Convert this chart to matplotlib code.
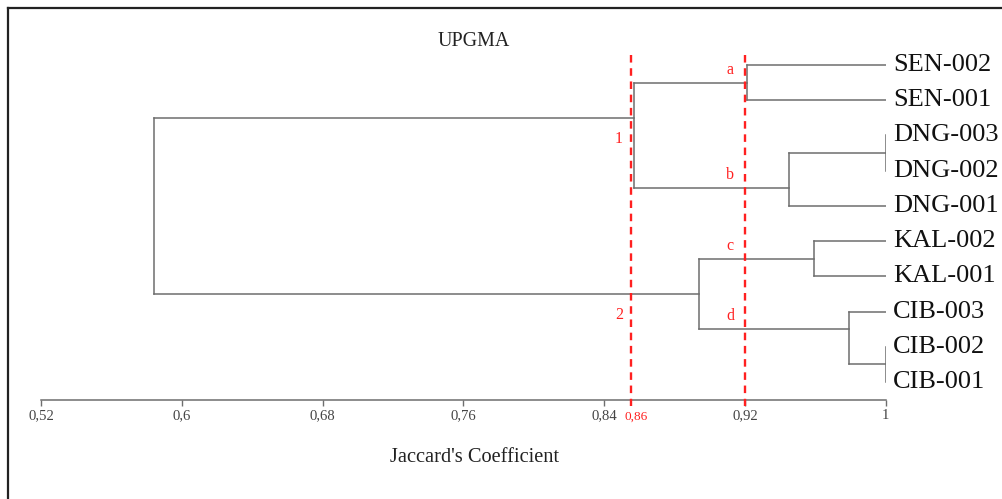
import matplotlib
matplotlib.use('Agg')
import matplotlib.pyplot as plt
from matplotlib.lines import Line2D

plt.rcParams['font.family'] = ['Liberation Serif', 'DejaVu Serif']

# leaves, top to bottom
leaves = ['SEN-002', 'SEN-001', 'DNG-003', 'DNG-002', 'DNG-001',
          'KAL-002', 'KAL-001', 'CIB-003', 'CIB-002', 'CIB-001']

# merges (node ids: leaves 0..9, new nodes 10, 11, ...)
merge_left = [2, 8, 0, 10, 5, 7, 12, 14, 16]
merge_right = [3, 9, 1, 4, 6, 11, 13, 15, 17]
merge_sim = [1.0, 1.0, 0.921, 0.945, 0.959, 0.979, 0.857, 0.894, 0.584]

# group labels on the merges
group_node = {12: 'a', 13: 'b', 14: 'c', 15: 'd', 16: '1', 17: '2'}

cut_low = 0.855   # drawn cut, labelled 0,86
cut_high = 0.92

xticks = [0.52, 0.6, 0.68, 0.76, 0.84, 0.92, 1.0]
xtick_labels = ['0,52', '0,6', '0,68', '0,76', '0,84', '0,92', '1']

fig = plt.figure(figsize=(10.03, 4.99), dpi=100)
ax = fig.add_axes([41.3 / 1003, 99 / 499, 844.4 / 1003, 360 / 499])

tree_col = '#6e6e6e'
n = len(leaves)
node_x = {i: 1.0 for i in range(n)}
node_y = {i: float(i) for i in range(n)}
first = {i: i for i in range(n)}
last = {i: i for i in range(n)}

for k, (l, r, s) in enumerate(zip(merge_left, merge_right, merge_sim)):
    nid = n + k
    # connection sits in the gap between the two child groups
    y = (last[l] + first[r]) / 2
    ax.plot([s, s], [node_y[l], node_y[r]], color=tree_col, lw=1.1)
    for c in (l, r):
        ax.plot([s, node_x[c]], [node_y[c], node_y[c]], color=tree_col, lw=1.1)
    node_x[nid] = s
    node_y[nid] = y
    first[nid] = first[l]
    last[nid] = last[r]

for i, name in enumerate(leaves):
    ax.annotate(name, xy=(1.0, i), xytext=(5.5, 0), textcoords='offset points',
                ha='left', va='center', fontsize=19, color='#111')

# cut lines
for c in (cut_low, cut_high):
    ax.plot([c, c], [-0.284, 9.68], color='#ff2020', lw=1.7,
            ls=(0, (3.2, 2.4)), clip_on=False, zorder=3)

for nid, lab in group_node.items():
    if lab.isdigit():
        off = (-8.3, -15.5)
        cx = cut_low
    else:
        off = (-10.8, 9.4)
        cx = cut_high
    ax.annotate(lab, xy=(cx, node_y[nid]), xytext=off, textcoords='offset points',
                ha='center', va='center', fontsize=11.5, color='#ff2020')

ax.annotate('0,86', xy=(cut_low, 0), xycoords=('data', 'axes fraction'),
            xytext=(3.8, -12.3), textcoords='offset points',
            ha='center', va='center', fontsize=9.5, color='#ff2020')

ax.set_xlim(0.52, 1.0)
ax.set_ylim(9.511, -0.710)
ax.set_xticks(xticks)
ax.set_xticklabels(xtick_labels, fontsize=10.6, color='#444')
ax.tick_params(axis='x', direction='out', length=4.3, width=1.0, color='#6e6e6e', pad=2.5)
ax.set_yticks([])
for side in ('top', 'left', 'right'):
    ax.spines[side].set_visible(False)
ax.spines['bottom'].set_color('#6e6e6e')
ax.spines['bottom'].set_linewidth(1.1)

fig.text(474 / 1003, 1 - 42 / 499, 'UPGMA', ha='center', va='center',
         fontsize=14.4, color='#222')
fig.text(475 / 1003, 1 - 457 / 499, "Jaccard's Coefficient", ha='center',
         va='center', fontsize=14.7, color='#222')

# outer frame (top and left edges visible)
fig.add_artist(Line2D([8 / 1003, 1.0], [1 - 7.5 / 499, 1 - 7.5 / 499],
                      transform=fig.transFigure, color='#222', lw=1.6))
fig.add_artist(Line2D([8 / 1003, 8 / 1003], [0, 1 - 7.5 / 499],
                      transform=fig.transFigure, color='#222', lw=1.6))

fig.savefig('out.png', dpi=100)
